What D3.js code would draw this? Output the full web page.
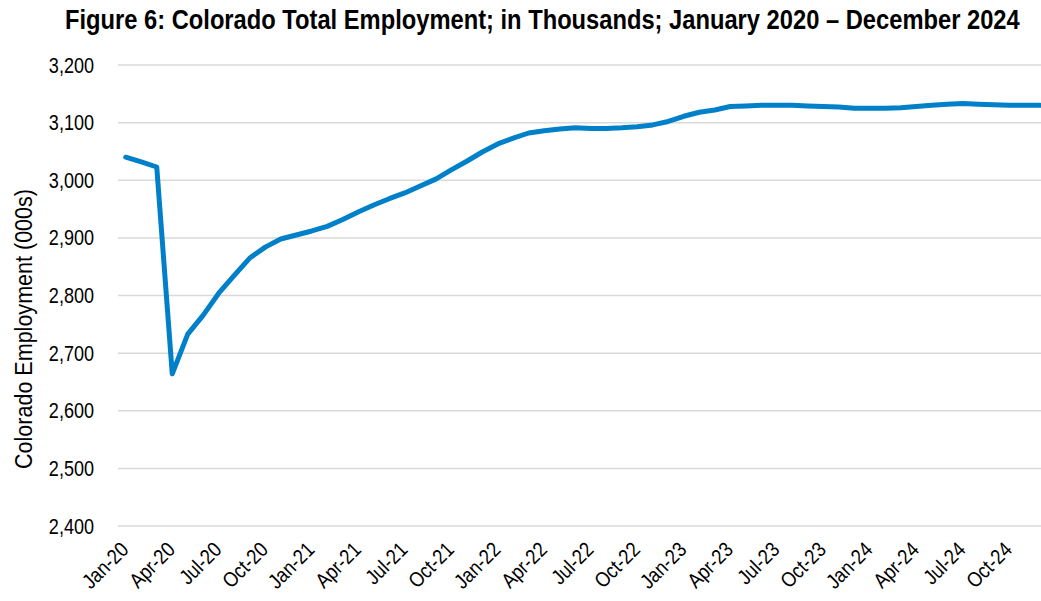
<!DOCTYPE html>
<html>
<head>
<meta charset="utf-8">
<script src="https://cdn.jsdelivr.net/npm/d3@7"></script>
<style>
  body { margin: 0; background: #fff; }
  text { fill: #000; }
</style>
</head>
<body>
<div id="chart"></div>
<script>
// data: Colorado total employment, thousands
var months = ['Jan','Feb','Mar','Apr','May','Jun','Jul','Aug','Sep','Oct','Nov','Dec'];
var years = ['20','21','22','23','24'];
var categories = [];
years.forEach(function(y) { months.forEach(function(m) { categories.push(m + '-' + y); }); });

var employment = [
  3040, 3032, 3023, 2664, 2733, 2766, 2804, 2835, 2865, 2884, 2898, 2905,
  2912, 2920, 2932, 2945, 2957, 2968, 2978, 2990, 3002, 3018, 3033, 3049,
  3063, 3073, 3082, 3086, 3089, 3091, 3090, 3090, 3091, 3093, 3096, 3102,
  3111, 3118, 3122, 3128, 3129, 3130, 3130, 3130, 3129, 3128, 3127, 3125,
  3125, 3125, 3126, 3128, 3130, 3132, 3133, 3132, 3131, 3130, 3130, 3130
];
var yTicks = [2400, 2500, 2600, 2700, 2800, 2900, 3000, 3100, 3200];
var xTickLabels = categories.filter(function(d, i) { return i % 3 === 0; });

var width = 1041, height = 601;
var margin = {left: 118, right: -7, top: 65, bottom: 75};
var font = '"Liberation Sans", Arial, sans-serif';

// squeeze text horizontally, the original uses a narrow face
function narrow(sel, k) {
    sel.each(function() {
        var w = this.getComputedTextLength();
        d3.select(this).attr('textLength', w * k).attr('lengthAdjust', 'spacingAndGlyphs');
    });
}

var svg = d3.select('#chart').append('svg')
    .attr('width', width)
    .attr('height', height)
    .style('font-family', font);

var x = d3.scaleBand()
    .domain(categories)
    .range([margin.left, width - margin.right]);
var y = d3.scaleLinear()
    .domain([2400, 3200])
    .range([height - margin.bottom, margin.top]);

// title (scaled down horizontally to fit 955px)
var title = svg.append('text')
    .attr('x', 0)
    .attr('y', 0)
    .style('font-size', '28px')
    .style('font-weight', 'bold')
    .text('Figure 6: Colorado Total Employment; in Thousands; January 2020 \u2013 December 2024');
var tw = title.node().getComputedTextLength();
title.attr('transform', 'translate(65,29) scale(' + (955 / tw) + ',1)');

// gridlines
svg.append('g').selectAll('line').data(yTicks)
    .join('line')
    .attr('x1', margin.left)
    .attr('x2', width)
    .attr('y1', function(d) { return y(d); })
    .attr('y2', function(d) { return y(d); })
    .attr('stroke', '#d9d9d9')
    .attr('stroke-width', 1.5);

// y axis
var yAxis = svg.append('g')
    .attr('transform', 'translate(' + (margin.left - 21) + ',0)')
    .call(d3.axisLeft(y).tickValues(yTicks).tickFormat(d3.format(',')).tickSize(0));
yAxis.select('.domain').remove();
yAxis.selectAll('text')
    .style('font-family', font)
    .style('font-size', '22px')
    .attr('fill', '#000')
    .call(narrow, 0.82);

svg.append('text')
    .attr('transform', 'translate(32,' + 329 + ') rotate(-90)')
    .attr('text-anchor', 'middle')
    .style('font-size', '23px')
    .text('Colorado Employment (000s)')
    .call(function(s) { s.attr('textLength', 280).attr('lengthAdjust', 'spacingAndGlyphs'); });

// x axis
var xAxis = svg.append('g')
    .attr('transform', 'translate(0,' + (height - margin.bottom) + ')')
    .call(d3.axisBottom(x).tickValues(xTickLabels).tickSize(0));
xAxis.select('.domain').remove();
xAxis.selectAll('text')
    .style('font-family', font)
    .style('font-size', '21px')
    .attr('fill', '#000')
    .attr('text-anchor', 'end')
    .attr('dy', null)
    .attr('y', 0)
    .attr('transform', 'translate(4,25) rotate(-45)')
    .call(narrow, 0.86);

// line
var line = d3.line()
    .x(function(d, i) { return x(categories[i]) + x.bandwidth() / 2; })
    .y(function(d) { return y(d); });

svg.append('path')
    .datum(employment)
    .attr('d', line)
    .attr('fill', 'none')
    .attr('stroke', '#0080c8')
    .attr('stroke-width', 5)
    .attr('stroke-linejoin', 'round')
    .attr('stroke-linecap', 'round');
</script>
</body>
</html>
